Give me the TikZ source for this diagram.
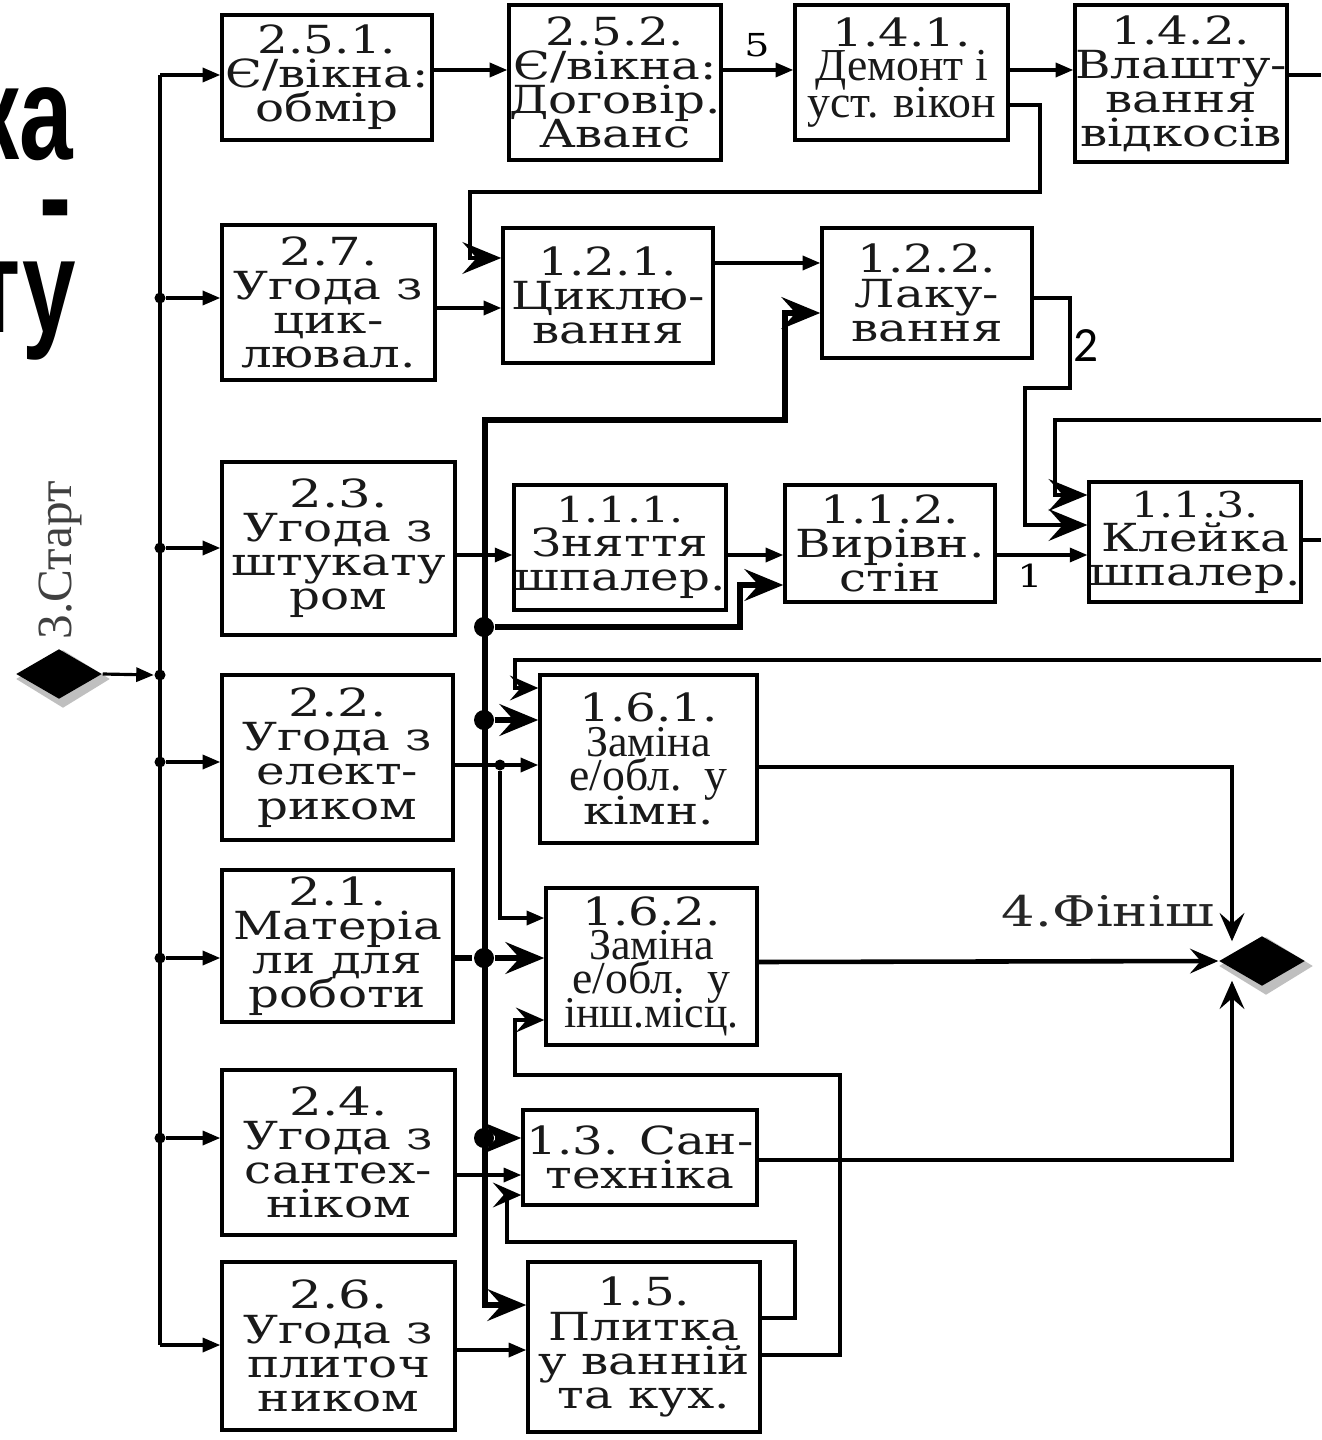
\documentclass[tikz,border=0pt]{standalone}
\usepackage{fontspec}
\setmainfont{DejaVu Serif}[FakeStretch=1.25]
\newfontfamily\wdf{DejaVu Serif}[FakeStretch=1.33]
\newfontfamily\tm{Liberation Serif}
\newfontfamily\hvb{Liberation Sans Bold}[FakeStretch=0.72]
\newfontfamily\cb{Carlito}
\usetikzlibrary{arrows.meta,shapes.geometric}
\newcommand\mkbox[6]{%
 \pgfmathsetmacro\bxcx{(#2+#4)/2}%
 \pgfmathsetmacro\bxcy{(#3+#5)/2}%
 \pgfmathsetmacro\bxw{(#4-#2)*0.01}%
 \pgfmathsetmacro\bxh{(#5-#3)*0.01}%
 \node[bx,minimum width=\bxw cm,minimum height=\bxh cm] (#1) at (\bxcx,\bxcy) {#6};}
\newcommand\tmf[2]{{\tm\fontsize{#1}{9.7}\selectfont #2}}
\newcommand\bxfont{\fontsize{11}{9.7}\selectfont\lineskiplimit-20pt\relax}
\newcommand\wdfont{\wdf\fontsize{11}{10}\selectfont\lineskiplimit-20pt\relax}
\newcommand\smfont{\fontsize{10.1}{9.7}\selectfont\lineskiplimit-20pt\relax}
\tikzset{
 bx/.style={draw,line width=1pt,fill=white,inner sep=0pt,align=center,text=black!90,font=\bxfont},
 lwa/.style={line width=0.9pt},
 lwb/.style={line width=1.3pt},
 lwc/.style={line width=1.8pt},
 sa/.style={-{Triangle[length=5pt,width=4pt]}},
 ma/.style={-{Stealth[length=8pt,width=7pt,inset=3pt]}},
 ba/.style={-{Stealth[length=11pt,width=9pt,inset=4pt]}},
 sdot/.style={circle,fill=black,inner sep=0pt,minimum size=0.11cm},
 bdot/.style={circle,fill=black,inner sep=0pt,minimum size=0.2cm},
 dmd/.style={diamond,fill=black,inner sep=0pt,minimum width=0.86cm,minimum height=0.5cm},
 dsh/.style={diamond,fill=black!25,inner sep=0pt,minimum width=0.94cm,minimum height=0.58cm},
 lbl/.style={inner sep=0pt,font=\fontsize{9}{10}\selectfont},
 ttl/.style={inner sep=0pt,font=\hvb\fontsize{38}{40}\selectfont},
}
\begin{document}
\begin{tikzpicture}[x=0.01cm,y=-0.01cm]
\fill[white] (0,0) rectangle (1321,1440);
\useasboundingbox (0,0) rectangle (1321,1440);

% big cut-off title text
\node[ttl,anchor=base east] (t1) at (74,160) {ка};
\node[ttl,anchor=base east] (t2) at (72,243) {-};
\node[ttl,anchor=base east] (t3) at (77,333) {ту};

% start / finish
\node[dsh] (starts) at (63,679) {};
\node[dmd] (start) at (59,674) {};
\node[rotate=90,inner sep=0pt,text=black!75,font=\tm\fontsize{14}{16}\selectfont] (stl) at (60,560) {3.Старт};
\node[dsh] (fins) at (1266,966) {};
\node[dmd] (fin) at (1262,961) {};
\node[inner sep=0pt,text=black!85,font=\fontsize{12}{14}\selectfont] (finl) at (1108,911) {4.Фініш};

% boxes
\mkbox{b251}{222}{15}{432}{140}{2.5.1.\\Є/вікна:\\обмір}
\mkbox{b252}{510}{5}{720}{160}{2.5.2.\\Є/вікна:\\Договір.\\Аванс}
\mkbox{b141}{795}{5}{1008}{140}{1.4.1.\\\tmf{13}{Демонт і}\\[1pt]\tmf{13}{уст. вікон}}
\mkbox{b142}{1075}{5}{1287}{162}{1.4.2.\\Влашту-\\вання\\відкосів}
\mkbox{b27}{222}{225}{435}{380}{\wdfont 2.7.\\Угода з\\цик-\\лювал.}
\mkbox{b121}{503}{228}{713}{363}{1.2.1.\\Циклю-\\вання}
\mkbox{b122}{822}{228}{1032}{358}{1.2.2.\\Лаку-\\вання}
\mkbox{b23}{222}{462}{455}{635}{\wdfont 2.3.\\Угода з\\штукату\\ром}
\mkbox{b111}{515}{485}{725}{610}{\smfont 1.1.1.\\Зняття\\шпалер.}
\mkbox{b112}{785}{485}{995}{602}{1.1.2.\\Вирівн.\\стін}
\mkbox{b113}{1090}{482}{1300}{602}{\smfont 1.1.3.\\Клейка\\шпалер.}
\mkbox{b22}{222}{675}{453}{840}{\wdfont 2.2.\\Угода з\\елект-\\риком}
\mkbox{b161}{540}{675}{757}{843}{1.6.1.\\\tmf{12.5}{Заміна}\\\tmf{13}{е/обл.\ \ у}\\кімн.}
\mkbox{b21}{222}{870}{453}{1022}{\wdfont 2.1.\\Матеріа\\ли для\\роботи}
\mkbox{b162}{546}{888}{757}{1045}{1.6.2.\\\tmf{12.5}{Заміна}\\\tmf{13}{е/обл.\ \ у}\\\tmf{12.5}{інш.місц.}}
\mkbox{b24}{222}{1070}{455}{1235}{\wdfont 2.4.\\Угода з\\сантех-\\ніком}
\mkbox{b13}{523}{1110}{757}{1205}{1.3. Сан-\\техніка}
\mkbox{b26}{222}{1262}{455}{1430}{\wdfont 2.6.\\Угода з\\плиточ\\ником}
\mkbox{b15}{528}{1262}{760}{1432}{1.5.\\Плитка\\у ванній\\та кух.}

% left bus
\coordinate (btop) at (160,75);
\coordinate (bbot) at (160,1345);
\draw[lwa] (btop) -- (bbot);
\draw[lwa,sa] (btop) -- (b251.west |- btop);
\draw[lwa,sa] (bbot) -- (b26.west |- bbot);
\node[sdot] (j27) at (160,298) {};
\node[sdot] (j23) at (160,548) {};
\node[sdot] (js) at (160,675) {};
\node[sdot] (j22) at (160,762) {};
\node[sdot] (j21) at (160,958) {};
\node[sdot] (j24) at (160,1138) {};
\draw[lwa,sa] (start.east) -- (js.west);
\draw[lwa,sa] (j27) -- (b27.west |- j27);
\draw[lwa,sa] (j23) -- (b23.west |- j23);
\draw[lwa,sa] (j22) -- (b22.west |- j22);
\draw[lwa,sa] (j21) -- (b21.west |- j21);
\draw[lwa,sa] (j24) -- (b24.west |- j24);

% top row
\draw[lwa,sa] (b251.east |- 0,70) -- (b252.west |- 0,70);
\draw[lwa,sa] (b252.east |- 0,70) -- (b141.west |- 0,70);
\node[lbl] (l5) at (757,45) {5};
\draw[lwa,sa] (b141.east |- 0,70) -- (b142.west |- 0,70);
\coordinate (e1) at (1321,75);
\draw[lwb] (b142.east |- e1) -- (e1);
\draw[lwb,ba] (b141.east |- 0,105) -| (1040,192) -| (470,258) -- (b121.west |- 0,258);

% row 2
\draw[lwa,sa] (b27.east |- 0,308) -- (b121.west |- 0,308);
\draw[lwa,sa] (b121.east |- 0,263) -- (b122.west |- 0,263);
\coordinate (tb) at (485,420);
\coordinate (tbb) at (485,1305);
\draw[lwc,ba] (tbb) -- (tb) -| (785,313) -- (b122.west |- 0,313);
\draw[lwc,ba] (tb) -- (tbb) -- (b15.west |- tbb);
\draw[lwb,ba] (b122.east |- 0,298) -| (1070,388) -| (1025,525) -- (b113.west |- 0,525);
\node[inner sep=0pt,font=\cb\fontsize{14}{16}\selectfont] (l2) at (1086,346) {2};
\coordinate (e2) at (1321,420);
\draw[lwb,ba] (e2) -| (1055,495) -- (b113.west |- 0,495);

% row 3
\draw[lwa,sa] (b23.east |- 0,555) -- (b111.west |- 0,555);
\draw[lwa,sa] (b111.east |- 0,555) -- (b112.west |- 0,555);
\draw[lwa,sa] (b112.east |- 0,555) -- (b113.west |- 0,555);
\node[lbl] (l1) at (1030,576) {1};
\coordinate (e3) at (1321,540);
\draw[lwb] (b113.east |- e3) -- (e3);
\node[bdot] (d1) at (484,627) {};
\draw[lwc,ba] (d1) -| (740,585) -- (b112.west |- 0,585);

% row 4
\coordinate (e4) at (1321,660);
\draw[lwb,ma] (e4) -| (515,688) -- (b161.west |- 0,688);
\node[bdot] (d2) at (484,720) {};
\draw[lwc,ba] (d2) -- (b161.west |- d2);
\node[sdot] (jd) at (500,765) {};
\draw[lwa,sa] (b22.east |- jd) -- (b161.west |- jd);
\draw[lwa,sa] (jd) |- (b162.west |- 0,918);
\draw[lwb,ma] (b161.east |- 0,767) -| ([xshift=-0.3cm,yshift=-0.06cm]fin.north);

% row 5
\node[bdot] (d3) at (484,958) {};
\draw[lwc,dash pattern=on 5pt off 3pt] (b21.east |- d3) -- (d3);
\draw[lwc,ba] (d3) -- (b162.west |- d3);
\draw[lwb,ma] (b162.east |- 0,962) -- (fin.west);
\draw[lwb,ma] (b15.east |- 0,1355) -| (840,1075) -| (515,1020) -- (b162.west |- 0,1020);

% row 6
\node[bdot] (d4) at (484,1138) {};
\draw[lwc,ba] (d4) -- (b13.west |- d4);
\draw[lwa,sa] (b24.east |- 0,1175) -- (b13.west |- 0,1175);
\draw[lwb,ma] (b15.east |- 0,1318) -| (795,1242) -| (507,1195) -- (b13.west |- 0,1195);
\draw[lwb,ma] (b13.east |- 0,1160) -| ([xshift=-0.3cm,yshift=0.06cm]fin.south);

% row 7
\draw[lwa,sa] (b26.east |- 0,1350) -- (b15.west |- 0,1350);
\end{tikzpicture}
\end{document}
